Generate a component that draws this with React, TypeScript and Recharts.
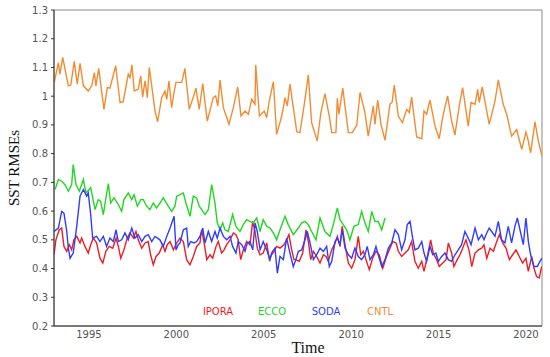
import { Line, LineChart, ReferenceArea, XAxis, YAxis } from 'recharts';

// [decimal year, SST RMSE]
const ipora: [number, number][] = [
  [1993.0, 0.448], [1993.11, 0.5], [1993.3, 0.535], [1993.44, 0.541], [1993.57, 0.477], [1993.73, 0.46], [1993.88, 0.483],
  [1994.01, 0.465], [1994.14, 0.5], [1994.3, 0.512], [1994.49, 0.489], [1994.58, 0.506], [1994.77, 0.477], [1994.96, 0.454],
  [1995.1, 0.483], [1995.25, 0.506], [1995.44, 0.489], [1995.63, 0.436], [1995.79, 0.419], [1995.97, 0.46], [1996.16, 0.477],
  [1996.36, 0.471], [1996.55, 0.506], [1996.68, 0.477], [1996.82, 0.436], [1997.0, 0.465], [1997.19, 0.506], [1997.35, 0.524],
  [1997.54, 0.506], [1997.69, 0.529], [1997.82, 0.5], [1998.02, 0.471], [1998.21, 0.489], [1998.39, 0.494], [1998.53, 0.448],
  [1998.68, 0.413], [1998.84, 0.442], [1999.02, 0.454], [1999.22, 0.483], [1999.35, 0.46], [1999.48, 0.483], [1999.64, 0.494],
  [1999.83, 0.465], [2000.02, 0.489], [2000.21, 0.506], [2000.4, 0.494], [2000.59, 0.431], [2000.78, 0.413], [2000.97, 0.442],
  [2001.16, 0.477], [2001.35, 0.489], [2001.45, 0.535], [2001.58, 0.494], [2001.74, 0.431], [2001.93, 0.448], [2002.08, 0.436],
  [2002.27, 0.477], [2002.4, 0.494], [2002.59, 0.454], [2002.73, 0.465], [2002.88, 0.483], [2003.07, 0.5], [2003.26, 0.524],
  [2003.41, 0.518], [2003.54, 0.5], [2003.68, 0.431], [2003.83, 0.465], [2004.02, 0.494], [2004.21, 0.483], [2004.37, 0.564],
  [2004.5, 0.529], [2004.63, 0.471], [2004.79, 0.448], [2004.97, 0.454], [2005.17, 0.489], [2005.32, 0.431], [2005.45, 0.448],
  [2005.59, 0.46], [2005.74, 0.477], [2005.93, 0.471], [2006.16, 0.483], [2006.31, 0.5], [2006.44, 0.518], [2006.6, 0.465],
  [2006.73, 0.431], [2006.84, 0.431], [2007.03, 0.425], [2007.23, 0.454], [2007.42, 0.535], [2007.55, 0.494], [2007.69, 0.431],
  [2007.84, 0.46], [2008.03, 0.442], [2008.22, 0.419], [2008.41, 0.448], [2008.56, 0.442], [2008.69, 0.425], [2008.89, 0.465],
  [2009.08, 0.489], [2009.21, 0.512], [2009.36, 0.477], [2009.49, 0.547], [2009.65, 0.483], [2009.84, 0.419], [2010.03, 0.401],
  [2010.22, 0.431], [2010.41, 0.512], [2010.55, 0.448], [2010.7, 0.46], [2010.85, 0.431], [2011.04, 0.396], [2011.23, 0.436],
  [2011.42, 0.46], [2011.61, 0.448], [2011.81, 0.401], [2011.99, 0.436], [2012.18, 0.465], [2012.38, 0.494], [2012.57, 0.489],
  [2012.7, 0.46], [2012.89, 0.442], [2013.08, 0.454], [2013.27, 0.465], [2013.46, 0.494], [2013.65, 0.425], [2013.84, 0.401],
  [2014.04, 0.425], [2014.17, 0.39], [2014.36, 0.442], [2014.55, 0.5], [2014.7, 0.454], [2014.89, 0.431], [2015.04, 0.407],
  [2015.24, 0.419], [2015.43, 0.431], [2015.56, 0.489], [2015.75, 0.454], [2015.88, 0.407], [2016.07, 0.431], [2016.23, 0.448],
  [2016.38, 0.471], [2016.57, 0.5], [2016.76, 0.46], [2016.9, 0.407], [2017.09, 0.454], [2017.28, 0.465], [2017.47, 0.471],
  [2017.6, 0.483], [2017.76, 0.436], [2017.95, 0.471], [2018.14, 0.46], [2018.33, 0.494], [2018.48, 0.518], [2018.67, 0.489],
  [2018.86, 0.471], [2019.05, 0.431], [2019.24, 0.448], [2019.43, 0.465], [2019.62, 0.442], [2019.81, 0.419], [2020.0, 0.436],
  [2020.14, 0.39], [2020.33, 0.442], [2020.46, 0.401], [2020.61, 0.372], [2020.76, 0.367], [2020.9, 0.407],
];

const ecco: [number, number][] = [
  [1993.06, 0.675], [1993.25, 0.71], [1993.44, 0.704], [1993.63, 0.692], [1993.82, 0.669], [1994.01, 0.692], [1994.1, 0.762],
  [1994.26, 0.692], [1994.45, 0.669], [1994.68, 0.71], [1994.83, 0.663], [1995.1, 0.681], [1995.35, 0.605], [1995.53, 0.64],
  [1995.67, 0.634], [1995.82, 0.588], [1995.97, 0.646], [1996.11, 0.696], [1996.24, 0.628], [1996.43, 0.646], [1996.68, 0.623],
  [1996.87, 0.599], [1997.0, 0.64], [1997.25, 0.663], [1997.45, 0.64], [1997.58, 0.657], [1997.77, 0.617], [1997.96, 0.64],
  [1998.11, 0.64], [1998.3, 0.617], [1998.49, 0.605], [1998.68, 0.628], [1998.87, 0.611], [1999.06, 0.628], [1999.25, 0.646],
  [1999.54, 0.617], [1999.73, 0.599], [1999.92, 0.617], [2000.02, 0.652], [2000.21, 0.657], [2000.4, 0.663], [2000.55, 0.628],
  [2000.78, 0.582], [2000.97, 0.652], [2001.16, 0.646], [2001.31, 0.617], [2001.45, 0.605], [2001.64, 0.588], [2001.83, 0.605],
  [2002.02, 0.692], [2002.21, 0.628], [2002.34, 0.559], [2002.5, 0.535], [2002.65, 0.559], [2002.78, 0.535], [2002.97, 0.529],
  [2003.22, 0.588], [2003.41, 0.547], [2003.64, 0.529], [2003.83, 0.553], [2004.02, 0.57], [2004.21, 0.564], [2004.4, 0.559],
  [2004.6, 0.576], [2004.79, 0.529], [2004.97, 0.57], [2005.17, 0.547], [2005.36, 0.541], [2005.55, 0.524], [2005.74, 0.5],
  [2005.93, 0.535], [2006.22, 0.582], [2006.4, 0.553], [2006.69, 0.518], [2006.98, 0.541], [2007.17, 0.559], [2007.36, 0.564],
  [2007.55, 0.553], [2007.74, 0.529], [2007.99, 0.5], [2008.22, 0.576], [2008.5, 0.529], [2008.79, 0.512], [2008.98, 0.553],
  [2009.21, 0.611], [2009.36, 0.57], [2009.55, 0.553], [2009.74, 0.535], [2009.93, 0.5], [2010.16, 0.547], [2010.41, 0.553],
  [2010.6, 0.599], [2010.79, 0.559], [2010.98, 0.529], [2011.18, 0.599], [2011.36, 0.564], [2011.55, 0.564], [2011.75, 0.535],
  [2011.94, 0.576],
];

const soda: [number, number][] = [
  [1993.0, 0.529], [1993.25, 0.541], [1993.44, 0.599], [1993.57, 0.593], [1993.73, 0.529], [1993.82, 0.471], [1993.92, 0.436],
  [1994.1, 0.454], [1994.3, 0.547], [1994.49, 0.652], [1994.68, 0.675], [1994.87, 0.652], [1994.96, 0.663], [1995.1, 0.588],
  [1995.21, 0.506], [1995.44, 0.512], [1995.63, 0.494], [1995.82, 0.512], [1996.01, 0.477], [1996.2, 0.506], [1996.39, 0.494],
  [1996.55, 0.535], [1996.68, 0.494], [1996.87, 0.5], [1997.06, 0.524], [1997.25, 0.5], [1997.45, 0.541], [1997.63, 0.506],
  [1997.82, 0.518], [1998.02, 0.494], [1998.21, 0.512], [1998.39, 0.518], [1998.59, 0.494], [1998.78, 0.512], [1999.06, 0.5],
  [1999.25, 0.477], [1999.45, 0.512], [1999.64, 0.541], [1999.87, 0.582], [1999.98, 0.465], [2000.11, 0.483], [2000.21, 0.489],
  [2000.4, 0.535], [2000.59, 0.541], [2000.68, 0.477], [2000.82, 0.494], [2001.01, 0.489], [2001.16, 0.494], [2001.35, 0.512],
  [2001.51, 0.541], [2001.64, 0.489], [2001.83, 0.529], [2002.02, 0.494], [2002.21, 0.529], [2002.34, 0.506], [2002.5, 0.541],
  [2002.69, 0.512], [2002.88, 0.5], [2003.07, 0.512], [2003.22, 0.477], [2003.41, 0.454], [2003.54, 0.494], [2003.74, 0.483],
  [2003.93, 0.46], [2004.06, 0.489], [2004.21, 0.494], [2004.37, 0.465], [2004.5, 0.559], [2004.63, 0.529], [2004.79, 0.465],
  [2004.97, 0.494], [2005.17, 0.465], [2005.36, 0.431], [2005.45, 0.454], [2005.64, 0.471], [2005.78, 0.384], [2005.93, 0.442],
  [2006.12, 0.431], [2006.31, 0.506], [2006.5, 0.454], [2006.69, 0.407], [2006.84, 0.431], [2006.98, 0.46], [2007.17, 0.465],
  [2007.36, 0.5], [2007.49, 0.529], [2007.65, 0.489], [2007.84, 0.431], [2008.03, 0.448], [2008.22, 0.471], [2008.41, 0.46],
  [2008.6, 0.477], [2008.75, 0.407], [2008.89, 0.425], [2009.08, 0.494], [2009.21, 0.506], [2009.36, 0.483], [2009.49, 0.535],
  [2009.65, 0.471], [2009.84, 0.448], [2010.03, 0.436], [2010.22, 0.471], [2010.41, 0.442], [2010.6, 0.431], [2010.79, 0.448],
  [2010.92, 0.477], [2011.08, 0.431], [2011.27, 0.448], [2011.42, 0.477], [2011.55, 0.448], [2011.75, 0.407], [2011.94, 0.431],
  [2012.13, 0.471], [2012.32, 0.489], [2012.51, 0.535], [2012.7, 0.518], [2012.89, 0.465], [2013.08, 0.5], [2013.21, 0.553],
  [2013.37, 0.564], [2013.52, 0.506], [2013.65, 0.465], [2013.84, 0.471], [2014.04, 0.494], [2014.17, 0.454], [2014.32, 0.425],
  [2014.51, 0.477], [2014.67, 0.448], [2014.85, 0.454], [2014.99, 0.425], [2015.18, 0.442], [2015.37, 0.454], [2015.56, 0.431],
  [2015.75, 0.425], [2015.94, 0.448], [2016.13, 0.465], [2016.32, 0.483], [2016.51, 0.529], [2016.7, 0.506], [2016.86, 0.483],
  [2017.09, 0.541], [2017.28, 0.5], [2017.47, 0.518], [2017.6, 0.5], [2017.76, 0.524], [2017.9, 0.541], [2018.04, 0.529],
  [2018.23, 0.512], [2018.42, 0.564], [2018.61, 0.5], [2018.8, 0.489], [2018.99, 0.547], [2019.18, 0.489], [2019.37, 0.547],
  [2019.51, 0.576], [2019.66, 0.535], [2019.85, 0.483], [2020.0, 0.576], [2020.14, 0.494], [2020.27, 0.448], [2020.46, 0.407],
  [2020.65, 0.407], [2020.8, 0.425], [2020.92, 0.436],
];

const cntl: [number, number][] = [
  [1993.0, 1.044], [1993.25, 1.117], [1993.34, 1.077], [1993.5, 1.135], [1993.63, 1.094], [1993.82, 1.036], [1993.96, 1.039],
  [1994.16, 1.121], [1994.33, 1.042], [1994.49, 1.114], [1994.68, 1.036], [1994.96, 1.018], [1995.16, 1.036], [1995.31, 1.082],
  [1995.4, 1.036], [1995.56, 1.097], [1995.86, 0.954], [1996.05, 1.03], [1996.2, 1.028], [1996.53, 1.106], [1996.78, 0.978],
  [1996.96, 0.981], [1997.25, 1.077], [1997.35, 1.065], [1997.46, 1.109], [1997.59, 1.018], [1997.82, 1.024], [1997.96, 1.071],
  [1998.07, 0.997], [1998.21, 1.053], [1998.34, 0.995], [1998.45, 1.1], [1998.78, 0.948], [1998.93, 0.911], [1999.16, 0.995],
  [1999.35, 1.018], [1999.45, 0.989], [1999.58, 1.053], [1999.73, 0.96], [1999.87, 1.013], [1999.98, 1.048], [2000.31, 1.048],
  [2000.49, 1.097], [2000.74, 0.954], [2000.97, 0.997], [2001.12, 1.028], [2001.31, 0.954], [2001.51, 1.044], [2001.77, 0.913],
  [2002.11, 0.995], [2002.25, 1.001], [2002.37, 0.966], [2002.5, 1.056], [2002.69, 0.96], [2003.01, 0.902], [2003.26, 0.96],
  [2003.51, 1.032], [2003.7, 0.931], [2003.93, 0.948], [2004.12, 0.937], [2004.31, 0.989], [2004.5, 0.972], [2004.54, 1.109],
  [2004.75, 0.931], [2005.03, 0.948], [2005.17, 0.925], [2005.3, 0.978], [2005.55, 1.051], [2005.74, 0.867], [2006.03, 0.931],
  [2006.22, 0.995], [2006.35, 0.966], [2006.5, 1.042], [2006.89, 0.876], [2007.07, 0.873], [2007.32, 0.972], [2007.55, 1.074],
  [2007.74, 0.908], [2008.06, 0.844], [2008.27, 0.943], [2008.5, 1.009], [2008.75, 0.931], [2008.89, 0.873], [2009.13, 0.873],
  [2009.21, 0.993], [2009.3, 0.937], [2009.52, 1.028], [2009.84, 0.873], [2010.07, 0.873], [2010.32, 0.899], [2010.51, 1.013],
  [2010.79, 0.943], [2010.98, 0.861], [2011.27, 0.966], [2011.36, 0.902], [2011.52, 0.986], [2011.71, 0.902], [2011.94, 0.846],
  [2012.22, 0.972], [2012.34, 0.978], [2012.47, 1.039], [2012.7, 0.931], [2012.93, 0.908], [2013.18, 0.954], [2013.33, 0.943],
  [2013.46, 0.997], [2013.75, 0.858], [2014.04, 0.852], [2014.17, 0.948], [2014.32, 0.937], [2014.51, 0.986], [2014.8, 0.896],
  [2015.04, 0.852], [2015.27, 0.937], [2015.52, 1.001], [2015.75, 0.913], [2015.94, 0.865], [2016.23, 0.983], [2016.38, 1.03],
  [2016.7, 0.896], [2016.86, 0.978], [2017.09, 0.972], [2017.24, 1.024], [2017.33, 0.978], [2017.5, 1.032], [2017.9, 0.902],
  [2018.23, 0.983], [2018.42, 1.057], [2018.7, 0.972], [2018.9, 0.937], [2019.18, 0.861], [2019.47, 0.884], [2019.76, 0.815],
  [2020.0, 0.875], [2020.12, 0.849], [2020.27, 0.803], [2020.52, 0.911], [2020.71, 0.844], [2020.92, 0.791],
];

const yTicks = [0.2, 0.3, 0.4, 0.5, 0.6, 0.7, 0.8, 0.9, 1, 1.1, 1.2, 1.3];
const xTicks = [1995, 2000, 2005, 2010, 2015, 2020];
const X_MIN = 1993;
const X_MAX = 2020.92;

const series = [
  { name: 'IPORA', color: '#ee1c24', pts: ipora },
  { name: 'ECCO', color: '#22d622', pts: ecco },
  { name: 'SODA', color: '#2f3dff', pts: soda },
  { name: 'CNTL', color: '#f28c32', pts: cntl },
];

const toPts = (a: [number, number][]) => a.map(([t, v]) => ({ t, v }));

const tickStyle = { fontSize: 10, fill: '#555', fontFamily: 'DejaVu Sans' };

// the legend is text only, sitting inside the plot near the bottom
function LegendText() {
  return (
    <div style={{ position: 'absolute', left: 191, top: 306, display: 'flex', fontFamily: 'DejaVu Sans', fontSize: 10 }}>
      {series.map(s => (
        <span key={s.name} style={{ width: 54, textAlign: 'center', color: s.color }}>{s.name}</span>
      ))}
    </div>
  );
}

export default function App() {
  return (
    <div style={{ position: 'fixed', left: 0, top: 0, width: 550, height: 357, background: '#fff' }}>
      <LineChart width={550} height={357} margin={{ top: 10, right: 8, bottom: 0, left: 0 }}>
        <XAxis
          dataKey="t"
          type="number"
          domain={[X_MIN, X_MAX]}
          ticks={xTicks}
          allowDataOverflow
          height={31}
          tickLine={false}
          tickSize={0}
          tickMargin={5}
          stroke="#333"
          tick={tickStyle}
          label={{ value: 'Time', position: 'insideBottom', offset: 4, dx: 10, style: { fontFamily: 'Liberation Serif', fontSize: 16, fill: '#111' } }}
        />
        <YAxis
          type="number"
          domain={[0.2, 1.3]}
          ticks={yTicks}
          width={54}
          tickSize={3}
          tickMargin={3}
          stroke="#333"
          tick={tickStyle}
          tickFormatter={(v: number) => String(+v.toFixed(1))}
          label={{ value: 'SST RMSEs', angle: -90, position: 'insideLeft', offset: 14, style: { textAnchor: 'middle', fontFamily: 'Liberation Serif', fontSize: 15, fill: '#111' } }}
        />
        <ReferenceArea x1={X_MIN} x2={X_MAX} y1={0.2} y2={1.3} fill="none" fillOpacity={0} stroke="#888" strokeWidth={1} />
        {series.map(s => (
          <Line
            key={s.name}
            data={toPts(s.pts)}
            dataKey="v"
            name={s.name}
            stroke={s.color}
            strokeWidth={1.4}
            dot={false}
            type="linear"
            isAnimationActive={false}
          />
        ))}
      </LineChart>
      <LegendText />
    </div>
  );
}
